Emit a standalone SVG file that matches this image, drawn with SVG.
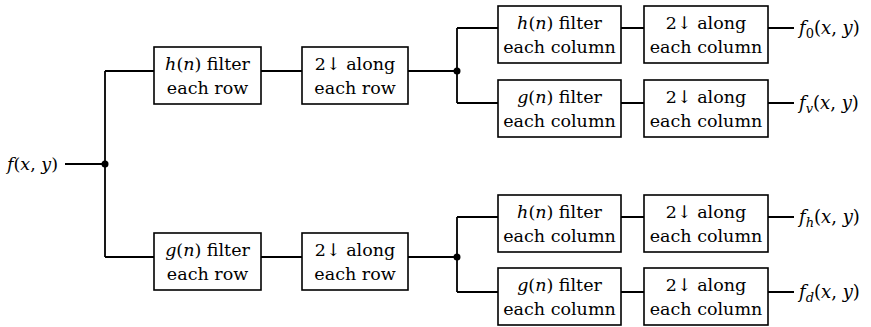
<svg xmlns="http://www.w3.org/2000/svg" width="871" height="327" viewBox="0 0 871 327">
<style>
.box{fill:#fff;stroke:#000;stroke-width:1.6}
.ln{fill:none;stroke:#000;stroke-width:1.8}
text{font-family:"DejaVu Serif","Liberation Serif",serif;font-size:17.5px;fill:#000}
.c{text-anchor:middle}
.i{font-style:italic}
.s{font-size:13px}
.o{font-size:18px}
</style>
<rect width="871" height="327" fill="#fff"/>
<g id="connectors">
<path class="ln" d="M65,164 H105 M105,71 V257 M105,71 H154 M105,257 H154"/>
<path class="ln" d="M261,71 H302 M261,257 H302"/>
<path class="ln" d="M408,71 H457 M457,28 V103 M457,28 H498 M457,103 H498"/>
<path class="ln" d="M408,257 H457 M457,217 V292 M457,217 H498 M457,292 H498"/>
<path class="ln" d="M621,28 H644 M621,103 H644 M621,217 H644 M621,292 H644"/>
<path class="ln" d="M768,28 H794 M768,103 H794 M768,217 H794 M768,292 H794"/>
<circle cx="105" cy="164" r="3.5"/>
<circle cx="457" cy="71" r="3.5"/>
<circle cx="457" cy="257" r="3.5"/>
</g>
<g id="input"><text x="7" y="170"><tspan class="i">f</tspan>(<tspan class="i">x</tspan>, <tspan class="i">y</tspan>)</text></g>
<g id="h-row"><rect class="box" x="154" y="47" width="107" height="57"/>
<text class="c" x="207.5" y="70"><tspan class="i">h</tspan>(<tspan class="i">n</tspan>) filter</text>
<text class="c" x="207.5" y="94">each row</text></g>
<g id="g-row"><rect class="box" x="154" y="233" width="107" height="57"/>
<text class="c" x="207.5" y="256"><tspan class="i">g</tspan>(<tspan class="i">n</tspan>) filter</text>
<text class="c" x="207.5" y="280">each row</text></g>
<g id="down-row-top"><rect class="box" x="302" y="47" width="106" height="57"/>
<text class="c" x="355" y="70">2↓ along</text>
<text class="c" x="355" y="94">each row</text></g>
<g id="down-row-bottom"><rect class="box" x="302" y="233" width="106" height="57"/>
<text class="c" x="355" y="256">2↓ along</text>
<text class="c" x="355" y="280">each row</text></g>
<g id="h-col-1"><rect class="box" x="498" y="6" width="123" height="57"/>
<text class="c" x="559.5" y="29"><tspan class="i">h</tspan>(<tspan class="i">n</tspan>) filter</text>
<text class="c" x="559.5" y="53">each column</text></g>
<g id="g-col-1"><rect class="box" x="498" y="80" width="123" height="57"/>
<text class="c" x="559.5" y="103"><tspan class="i">g</tspan>(<tspan class="i">n</tspan>) filter</text>
<text class="c" x="559.5" y="127">each column</text></g>
<g id="h-col-2"><rect class="box" x="498" y="195" width="123" height="57"/>
<text class="c" x="559.5" y="218"><tspan class="i">h</tspan>(<tspan class="i">n</tspan>) filter</text>
<text class="c" x="559.5" y="242">each column</text></g>
<g id="g-col-2"><rect class="box" x="498" y="268" width="123" height="57"/>
<text class="c" x="559.5" y="291"><tspan class="i">g</tspan>(<tspan class="i">n</tspan>) filter</text>
<text class="c" x="559.5" y="315">each column</text></g>
<g id="down-col-1"><rect class="box" x="644" y="6" width="124" height="57"/>
<text class="c" x="706" y="29">2↓ along</text>
<text class="c" x="706" y="53">each column</text></g>
<g id="down-col-2"><rect class="box" x="644" y="80" width="124" height="57"/>
<text class="c" x="706" y="103">2↓ along</text>
<text class="c" x="706" y="127">each column</text></g>
<g id="down-col-3"><rect class="box" x="644" y="195" width="124" height="57"/>
<text class="c" x="706" y="218">2↓ along</text>
<text class="c" x="706" y="242">each column</text></g>
<g id="down-col-4"><rect class="box" x="644" y="268" width="124" height="57"/>
<text class="c" x="706" y="291">2↓ along</text>
<text class="c" x="706" y="315">each column</text></g>
<g id="outputs">
<text class="o" x="799" y="34"><tspan class="i">f</tspan><tspan class="s" dy="4">0</tspan><tspan dy="-4">(</tspan><tspan class="i">x</tspan>, <tspan class="i">y</tspan>)</text>
<text class="o" x="799" y="109"><tspan class="i">f</tspan><tspan class="s i" dy="4">v</tspan><tspan dy="-4">(</tspan><tspan class="i">x</tspan>, <tspan class="i">y</tspan>)</text>
<text class="o" x="799" y="223"><tspan class="i">f</tspan><tspan class="s i" dy="4">h</tspan><tspan dy="-4">(</tspan><tspan class="i">x</tspan>, <tspan class="i">y</tspan>)</text>
<text class="o" x="799" y="298"><tspan class="i">f</tspan><tspan class="s i" dy="4">d</tspan><tspan dy="-4">(</tspan><tspan class="i">x</tspan>, <tspan class="i">y</tspan>)</text>
</g>
</svg>
